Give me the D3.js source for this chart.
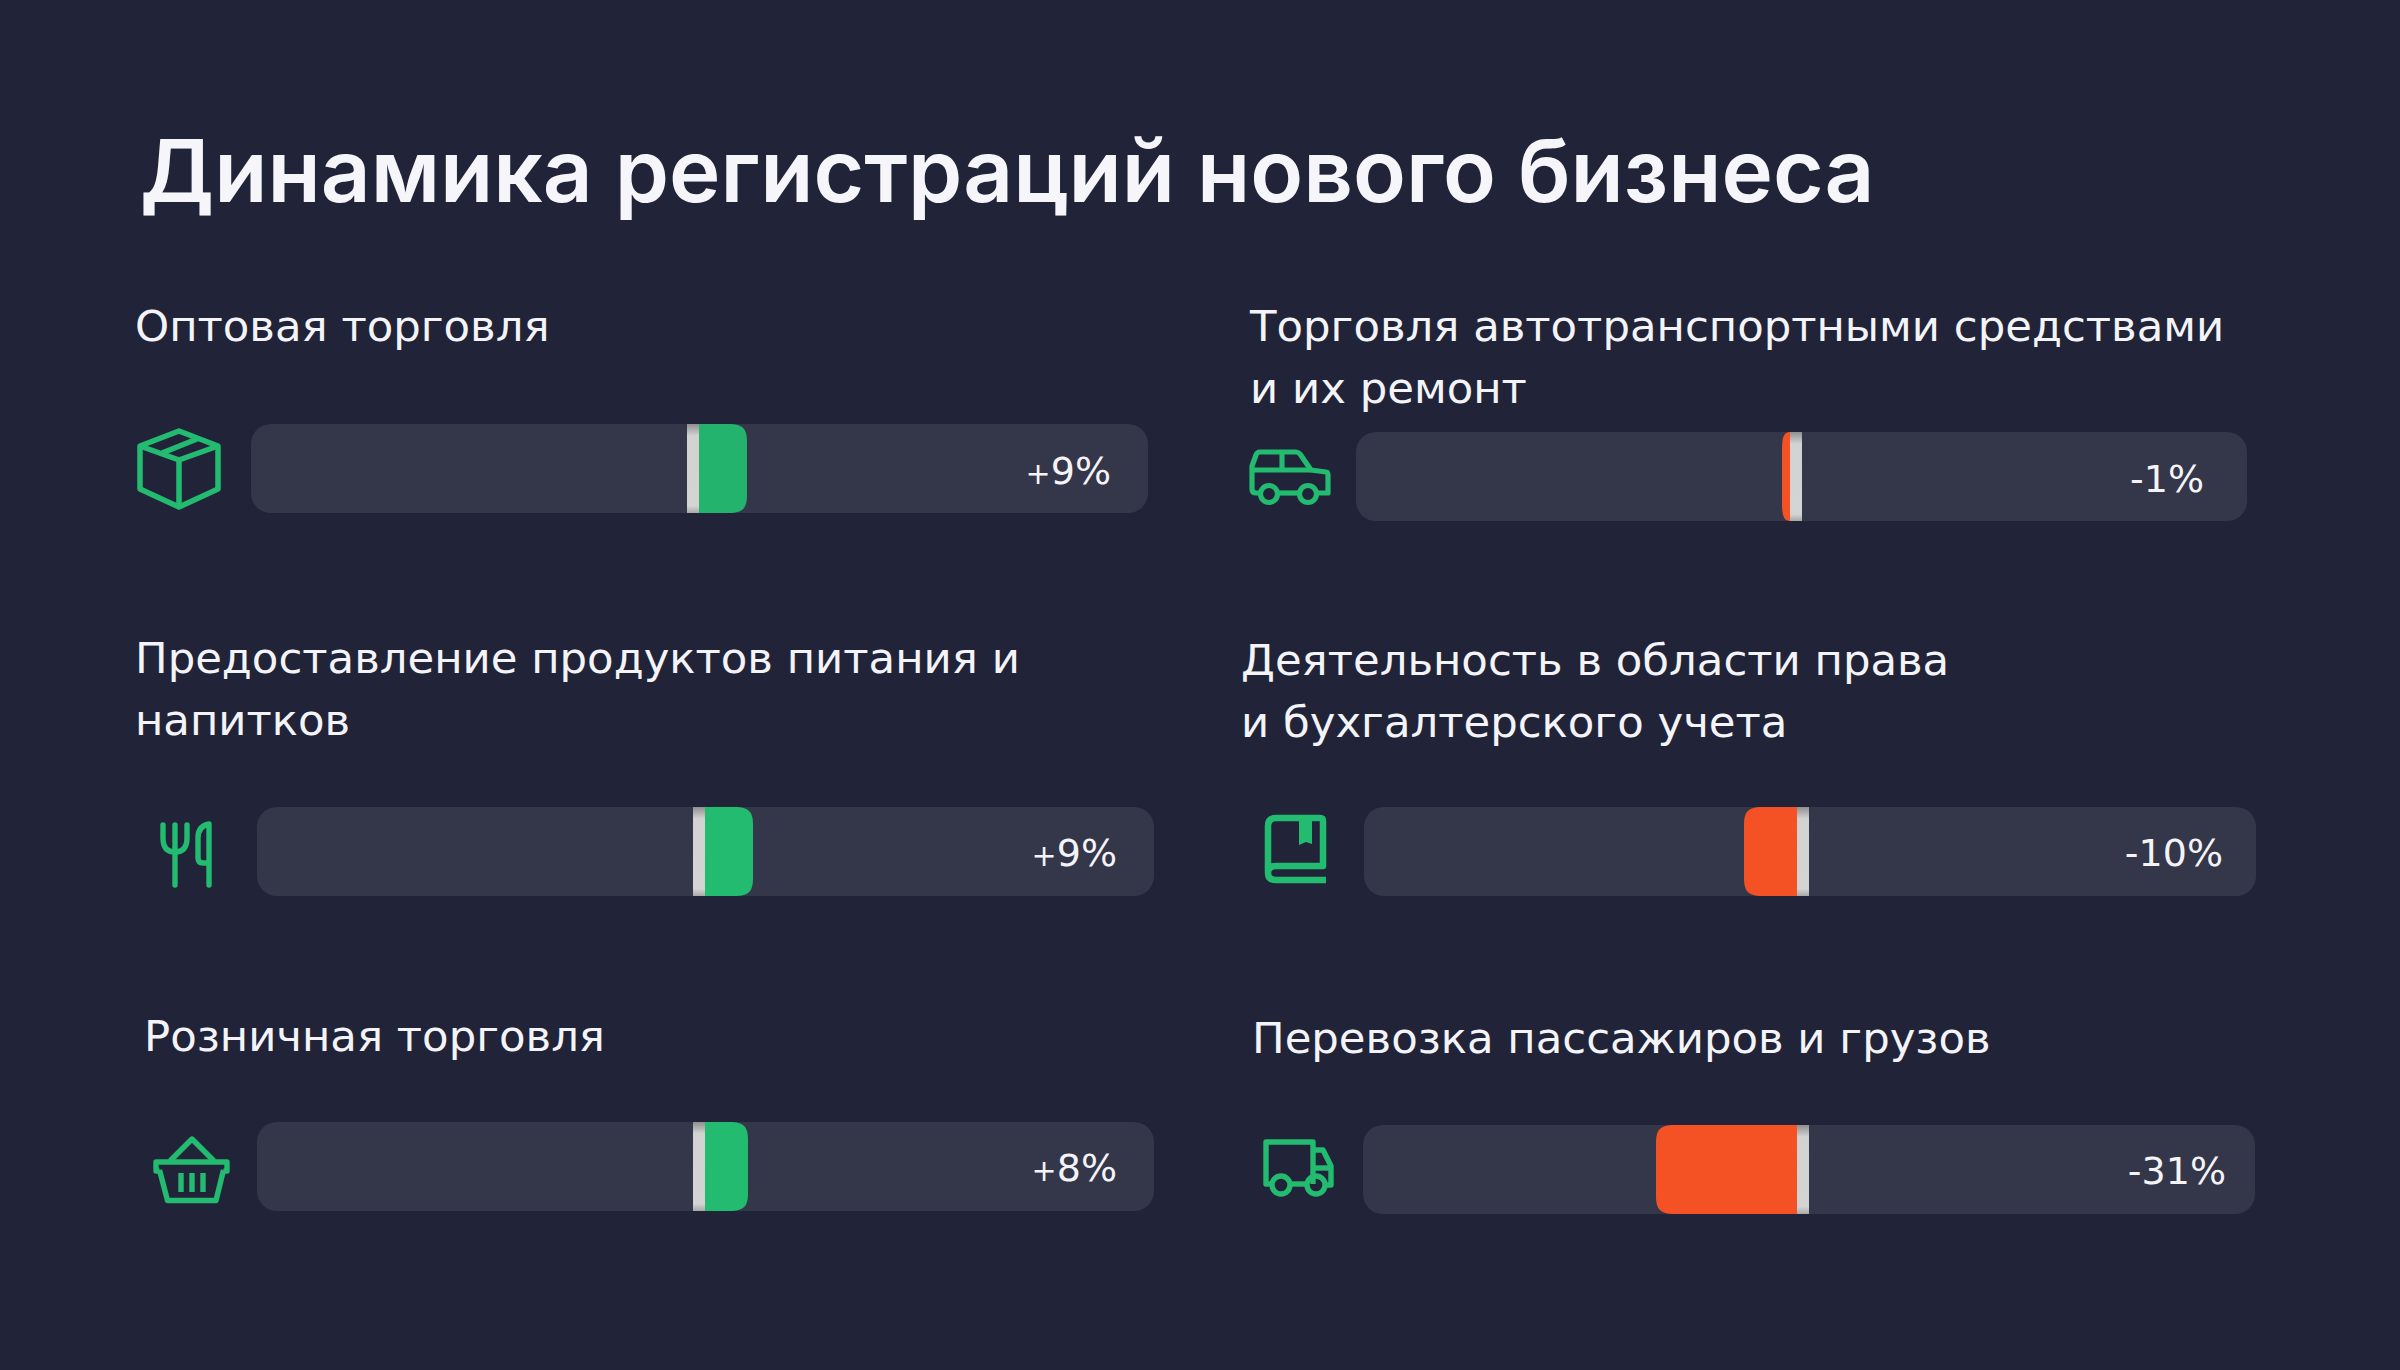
<!DOCTYPE html>
<html>
<head>
<meta charset="utf-8">
<script src="https://cdn.jsdelivr.net/npm/d3@7"></script>
<style>
  html, body { margin: 0; padding: 0; background: #212439; }
  svg { display: block; }
</style>
</head>
<body>
<svg id="chart"></svg>
<script>
const titleText = "Динамика регистраций нового бизнеса"
const categories = [
    ["Оптовая торговля"],
    ["Торговля автотранспортными средствами", "и их ремонт"],
    ["Предоставление продуктов питания и", "напитков"],
    ["Деятельность в области права", "и бухгалтерского учета"],
    ["Розничная торговля"],
    ["Перевозка пассажиров и грузов"]
]
const values = [9, -1, 9, -10, 8, -31]
const iconNames = ["box", "car", "cutlery", "book", "basket", "truck"]

// where each panel sits, the original was laid out by hand so they don't line up
const layout = [
    { textX: 135, textY: 341, trackX: 251, trackY: 424, trackW: 897, zero: 436, labelX: 1111, labelY: 483.5, iconX: 130, iconY: 410 },
    { textX: 1250, textY: 341, trackX: 1356, trackY: 432, trackW: 891, zero: 434, labelX: 2204, labelY: 491.5, iconX: 1240, iconY: 430 },
    { textX: 135, textY: 673, trackX: 257, trackY: 807, trackW: 897, zero: 436, labelX: 1117, labelY: 865.5, iconX: 130, iconY: 800 },
    { textX: 1241, textY: 675, trackX: 1364, trackY: 807, trackW: 892, zero: 433, labelX: 2223, labelY: 865.5, iconX: 1250, iconY: 800 },
    { textX: 144, textY: 1051, trackX: 257, trackY: 1122, trackW: 897, zero: 436, labelX: 1117, labelY: 1180.5, iconX: 140, iconY: 1120 },
    { textX: 1252, textY: 1053, trackX: 1363, trackY: 1125, trackW: 892, zero: 434, labelX: 2226, labelY: 1183.5, iconX: 1250, iconY: 1120 }
]

width = 2400
height = 1370
trackHeight = 89
zeroWidth = 12
lineGap = 62

green = "#22bb70"
orange = "#f45225"
fontFamily = "'DejaVu Sans', sans-serif"

// bars in the picture are not quite proportional to the labels, so the scale has a few stops
barLength = d3.scaleLinear()
    .domain([0, 1, 10, 31])
    .range([0, 8, 53, 141])

// stroke icons, drawn in a 110px box
const icons = {
    box: { sw: 5.5, paths: ["M49 21 L88 36 V79 L49 97 L10 79 V36 Z", "M10 36 L49 50 L88 36", "M49 50 V97", "M32 43 L67 29"] },
    car: { sw: 5.2, circles: [[29, 64, 8.5], [68, 64, 8.5]], paths: ["M20 63 H16 Q12 63 12 59 V36 L16 25 Q17 22 20 22 H56 Q58 22 60 24 L71 40 L86 42 Q88 42 88 45 V63 H77", "M38 63 H59", "M12 40 H71", "M42 22 V40"] },
    cutlery: { sw: 5.4, paths: ["M33 25 V38 Q33 52 45 52 Q57 52 57 38 V25", "M45 25 V85", "M79 85 V24 Q68 26 68 38 V58 Q68 63 73 63 H79"] },
    book: { sw: 6.5, paths: ["M76 80 H26 Q18 80 18 73 Q18 66 26 66 H73 V21 Q73 18 70 18 H26 Q18 18 18 26 V73"], fills: ["M49 20 H62 V44 L56 42 L49 45 Z"] },
    basket: { sw: 5.4, paths: ["M30 41 L52 19 L74 41", "M19.5 51 H16 V42 H87 V51 H83.5", "M19.5 50 L27.5 80.5 H76 L83.5 50", "M41 53 V72", "M52 53 V72", "M63 53 V72"] },
    truck: { sw: 5.4, circles: [[31, 65, 9], [66, 65, 9]], paths: ["M22 64 H16 V22 H63 V64", "M40 64 H57", "M63 30 H73 L81 46 V65 H75", "M63 48 H81"] }
}

graphSVGElement = d3.select("#chart")
    .attr("width", width)
    .attr("height", height)
    .attr("font-family", fontFamily)

// soft dark shading at the ends of the white marker
defs = graphSVGElement.append("defs")
grad = defs.append("linearGradient")
    .attr("id", "zeroFill")
    .attr("x1", 0).attr("x2", 0).attr("y1", 0).attr("y2", 1)
grad.append("stop").attr("offset", "0%").attr("stop-color", "#8f8f8f")
grad.append("stop").attr("offset", "13%").attr("stop-color", "#d2d2d2")
grad.append("stop").attr("offset", "92%").attr("stop-color", "#d4d4d4")
grad.append("stop").attr("offset", "100%").attr("stop-color", "#a8a8a8")

graphSVGElement.append("rect")
    .attr("width", width)
    .attr("height", height)
    .attr("fill", "#212439")

graphSVGElement.append("text")
    .attr("x", 140)
    .attr("y", 202)
    .attr("font-family", "Inter, sans-serif")
    .attr("font-size", 87)
    .attr("font-weight", 600)
    .attr("fill", "#f6f6fa")
    .text(titleText)

// bar with rounded corners only on the outer end
function barPath(x0, x1, y0, y1) {
    var dir = x1 > x0 ? 1 : -1
    var rx = Math.min(18, Math.abs(x1 - x0))
    var ry = 18
    var p = d3.path()
    p.moveTo(x0, y0)
    p.lineTo(x1 - dir * rx, y0)
    p.bezierCurveTo(x1 - dir * rx * 0.25, y0, x1, y0 + ry * 0.25, x1, y0 + ry)
    p.lineTo(x1, y1 - ry)
    p.bezierCurveTo(x1, y1 - ry * 0.25, x1 - dir * rx * 0.25, y1, x1 - dir * rx, y1)
    p.lineTo(x0, y1)
    p.closePath()
    return p.toString()
}

panels = graphSVGElement.selectAll("g.panel")
    .data(values)
    .join("g")
    .attr("class", "panel")

panels.each(function (v, i) {
    var g = d3.select(this)
    var pos = layout[i]

    g.selectAll("text.category")
        .data(categories[i])
        .join("text")
        .attr("class", "category")
        .attr("x", pos.textX)
        .attr("y", (d, k) => pos.textY + k * lineGap)
        .attr("font-size", 43.4)
        .attr("fill", "#f4f4f8")
        .text(d => d)

    g.append("rect")
        .attr("x", pos.trackX)
        .attr("y", pos.trackY)
        .attr("width", pos.trackW)
        .attr("height", trackHeight)
        .attr("rx", 20)
        .attr("fill", "#343749")

    var zeroX = pos.trackX + pos.zero
    var len = barLength(Math.abs(v))
    var start = v >= 0 ? zeroX + zeroWidth : zeroX
    var end = v >= 0 ? start + len : start - len

    g.append("path")
        .attr("d", barPath(start, end, pos.trackY, pos.trackY + trackHeight))
        .attr("fill", v >= 0 ? green : orange)
        .attr("fill-opacity", i == 0 ? 0.94 : 1)

    g.append("rect")
        .attr("x", zeroX)
        .attr("y", pos.trackY)
        .attr("width", zeroWidth)
        .attr("height", trackHeight)
        .attr("fill", "url(#zeroFill)")

    var label = g.append("text")
        .attr("x", pos.labelX)
        .attr("y", pos.labelY)
        .attr("text-anchor", "end")
        .attr("font-size", 38)
        .attr("fill", "#f4f4f8")
    // the plus sign is narrower in the original than in this font
    if (v > 0) label.append("tspan").attr("font-size", 30).text("+")
    label.append("tspan").text(v + "%")

    // icon
    var icon = icons[iconNames[i]]
    var ig = g.append("g")
        .attr("transform", "translate(" + pos.iconX + "," + pos.iconY + ")")
        .attr("fill", "none")
        .attr("stroke", green)
        .attr("stroke-width", icon.sw)
        .attr("stroke-linecap", iconNames[i] == "cutlery" ? "round" : "butt")
        .attr("stroke-linejoin", "round")
    ig.selectAll("path.line").data(icon.paths).join("path").attr("class", "line").attr("d", d => d)
    ig.selectAll("circle").data(icon.circles || []).join("circle")
        .attr("cx", d => d[0]).attr("cy", d => d[1]).attr("r", d => d[2])
    ig.selectAll("path.solid").data(icon.fills || []).join("path").attr("class", "solid")
        .attr("d", d => d).attr("fill", green).attr("stroke", "none")
})
</script>
</body>
</html>
